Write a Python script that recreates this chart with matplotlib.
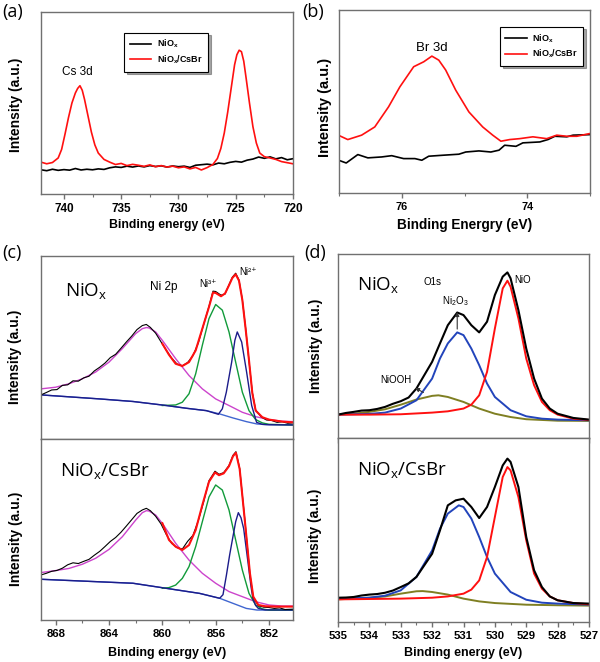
import matplotlib
matplotlib.use("Agg")
from matplotlib import pyplot as plt
from matplotlib.ticker import MultipleLocator

# ---- panel (a): Cs 3d, intensity in % of axes height
A_X_NIOX = [742, 741.5, 741, 740.5, 740, 739.5, 739, 738.5, 738, 737.5, 737, 736.5, 736,
            735.5, 735, 734.5, 734, 733.5, 733, 732.5, 732, 731.5, 731, 730.5, 730, 729.5,
            729, 728.5, 728, 727.5, 727, 726.5, 726, 725.5, 725, 724.5, 724, 723.5, 723,
            722.5, 722, 721.5, 721, 720.5, 720]
A_Y_NIOX = [13.3, 12.8, 13.6, 13.0, 13.4, 13.1, 14.0, 13.2, 13.6, 13.3, 13.8, 13.5, 14.4,
            14.9, 14.6, 15.3, 14.8, 15.4, 14.9, 15.6, 15.1, 15.5, 14.8, 15.4, 15.0, 15.3,
            14.6, 15.8, 16.1, 16.4, 16.0, 17.0, 16.6, 17.4, 17.9, 17.5, 18.6, 19.2, 20.3,
            19.6, 20.4, 19.3, 20.0, 18.8, 19.4]
A_X_CSBR = [742, 741.5, 741, 740.5, 740.2, 739.9, 739.6, 739.3, 739.0, 738.8, 738.6, 738.4,
            738.2, 737.9, 737.6, 737.3, 737.0, 736.5, 736, 735.5, 735, 734.5, 734, 733.5,
            733, 732.5, 732, 731.5, 731, 730.5, 730, 729.5, 729, 728.5, 728, 727.5, 727,
            726.6, 726.3, 726.0, 725.7, 725.4, 725.1, 724.9, 724.7, 724.5, 724.3, 724.1,
            723.8, 723.5, 723.2, 722.9, 722.5, 722, 721.5, 721, 720.5, 720]
A_Y_CSBR = [17.5, 16.6, 17.3, 19.8, 24.5, 33.0, 42.0, 50.0, 55.5, 58.0, 59.5, 57.0,
            52.0, 43.0, 34.0, 27.0, 22.5, 19.0, 17.5, 16.2, 16.8, 15.6, 16.3, 15.8,
            15.2, 16.0, 15.0, 15.6, 14.8, 15.3, 14.4, 14.9, 13.8, 14.6, 13.2, 14.5, 16.2,
            19.5, 25.0, 33.5, 45.0, 58.0, 71.0, 76.5, 79.0, 78.2, 73.0, 64.0,
            50.0, 37.0, 28.0, 22.5, 20.5, 19.8, 19.0, 17.8, 17.2, 16.6]

# ---- panel (b): Br 3d
B_X_NIOX = [77.03, 76.885, 76.70, 76.54, 76.32, 76.16, 75.97, 75.79, 75.68, 75.57, 75.36,
            75.09, 74.98, 74.77, 74.58, 74.45, 74.36, 74.18, 74.07, 73.80, 73.67, 73.56,
            73.37, 73.27, 73.0]
B_Y_NIOX = [18.2, 16.4, 21.0, 19.2, 19.7, 20.4, 18.8, 18.8, 17.9, 20.1, 20.6, 21.2, 22.4,
            23.0, 22.4, 23.4, 26.1, 25.5, 27.4, 27.9, 29.2, 31.0, 30.7, 31.6, 31.9]
B_X_CSBR = [77.03, 76.86, 76.64, 76.43, 76.21, 76.03, 75.81, 75.65, 75.52, 75.41, 75.30,
            75.14, 74.93, 74.71, 74.55, 74.42, 74.28, 74.12, 73.91, 73.69, 73.53, 73.37,
            73.21, 73.0]
B_Y_CSBR = [31.9, 29.2, 31.6, 36.1, 47.1, 58.0, 69.0, 71.7, 74.8, 72.6, 67.2, 56.2, 44.3,
            36.1, 31.6, 28.3, 29.2, 29.7, 30.7, 29.7, 31.6, 31.0, 31.0, 32.5]

# ---- panel (c) top: Ni 2p, NiOx
C1_RAW_X = [869.1, 868.7, 868.3, 867.9, 867.5, 867.1, 866.7, 866.3, 865.9, 865.5, 865.1,
            864.7, 864.3, 863.9, 863.5, 863.1, 862.7, 862.3, 861.9, 861.5, 861.2, 860.9,
            860.5, 860.1, 859.7, 859.3, 858.9, 858.5, 858.1, 857.7, 857.3, 856.9, 856.5,
            856.2, 856.0, 855.6, 855.3, 855.0, 854.75, 854.5, 854.25, 854.0, 853.75, 853.5,
            853.25, 853.0, 852.6, 852.2, 851.8, 851.4, 851.0, 850.6, 850.2]
C1_RAW_Y = [24.1, 25.4, 26.8, 27.0, 29.3, 29.6, 31.8, 31.6, 33.4, 34.3, 37.2,
            39.2, 41.5, 44.5, 46.3, 49.6, 53.0, 56.2, 59.8, 62.0, 62.6, 61.0,
            57.8, 53.1, 48.5, 44.2, 41.0, 40.0, 41.8, 45.6, 52.5, 62.6, 72.5,
            80.8, 80.6, 78.6, 79.2, 84.3, 88.4, 90.6, 86.9, 76.2, 60.4, 42.6,
            25.5, 15.8, 12.2, 10.4, 10.1, 9.1, 9.4, 8.6, 8.8]
C1_FIT_X = [860.0, 859.5, 859.0, 858.5, 858.0, 857.5, 857.0, 856.5, 856.2, 856.0, 855.6,
            855.3, 855.0, 854.75, 854.5, 854.25, 854.0, 853.75, 853.5, 853.25, 853.0,
            852.5, 852.0, 851.0, 850.2]
C1_FIT_Y = [52.1, 46.0, 41.1, 39.9, 42.0, 48.4, 60.3, 72.2, 80.0, 79.8, 78.0,
            79.5, 84.0, 88.0, 90.0, 86.5, 76.0, 60.0, 43.0, 25.0, 15.5,
            11.9, 10.6, 9.5, 9.1]
C1_SAT_X = [869.1, 868, 867, 866, 865, 864, 863, 862, 861.5, 861.2, 861, 860.5, 860, 859,
            858, 857, 856, 855, 854, 853, 852, 851, 850.2]
C1_SAT_Y = [27.4, 28.3, 30.2, 32.9, 36.6, 42.0, 49.4, 57.6, 60.3, 60.9, 60.7, 58.5, 53.9,
            43.9, 34.7, 27.4, 21.9, 18.3, 14.6, 12.2, 10.6, 9.7, 9.5]
C1_NI3_X = [860.0, 859.0, 858.5, 858.0, 857.5, 857.0, 856.5, 856.0, 855.5, 855.0, 854.5,
            854.0, 853.5, 853.0, 852.5, 852.0, 850.2]
C1_NI3_Y = [18.3, 18.6, 20.1, 24.7, 35.6, 51.2, 65.8, 73.5, 70.4, 58.5, 42.0,
            25.6, 15.5, 10.6, 8.8, 8.0, 7.7]
C1_NI2_X = [869.1, 864.7, 862.2, 859.7, 858.2, 856.7, 855.8, 855.5, 855.2, 854.8, 854.56,
            854.38, 854.05, 853.68, 853.3, 852.93, 852.5, 852.0, 850.2]
C1_NI2_Y = [24.1, 21.9, 20.5, 18.3, 16.8, 15.5, 13.5, 16.5, 25.6, 42.0, 53.9,
            58.5, 53.0, 36.6, 18.3, 9.1, 8.0, 7.8, 7.7]
C1_BKG_X = [869.1, 864.7, 862.2, 859.7, 858.2, 856.7, 855.7, 854.7, 853.7, 852.9, 852.2, 850.2]
C1_BKG_Y = [24.1, 21.9, 20.5, 18.3, 16.8, 15.5, 13.7, 11.5, 9.5, 8.2, 7.9, 7.7]

# ---- panel (c) bottom: Ni 2p, NiOx/CsBr
C2_RAW_X = [869.1, 868.7, 868.3, 867.9, 867.5, 867.1, 866.7, 866.3, 865.9, 865.5, 865.1,
            864.7, 864.3, 863.9, 863.5, 863.1, 862.7, 862.3, 861.9, 861.5, 861.2, 860.9,
            860.5, 860.1, 859.7, 859.3, 858.9, 858.5, 858.1, 857.7, 857.3, 856.9, 856.5,
            856.05, 855.75, 855.4, 855.0, 854.7, 854.48, 854.2, 853.8, 853.43, 853.18,
            852.8, 852.4, 852.0, 851.6, 851.2, 850.8, 850.2]
C2_RAW_Y = [24.9, 25.8, 26.9, 27.4, 28.6, 30.5, 31.6, 31.2, 32.4, 33.5, 35.8,
            37.9, 40.6, 43.4, 45.6, 48.5, 51.9, 55.4, 58.9, 60.8, 61.7, 60.4,
            57.3, 53.1, 47.2, 42.3, 40.0, 39.2, 43.5, 46.8, 55.0, 65.3, 77.0,
            82.2, 80.5, 81.4, 85.4, 91.0, 93.0, 83.8, 54.5, 25.5, 12.4,
            7.9, 7.1, 6.9, 6.4, 6.7, 5.8, 6.0]
C2_FIT_X = [860.0, 859.5, 859.0, 858.5, 858.0, 857.5, 857.0, 856.5, 856.05, 855.75, 855.4,
            855.0, 854.7, 854.48, 854.2, 853.8, 853.43, 853.18, 852.8, 852.3, 851.5, 850.2]
C2_FIT_Y = [53.5, 44.2, 40.5, 38.7, 41.4, 49.7, 63.5, 76.4, 81.5, 80.0, 81.0,
            85.0, 90.5, 92.4, 83.4, 54.0, 25.8, 12.9, 8.3, 7.6, 7.4, 7.4]
C2_SAT_X = C1_SAT_X
C2_SAT_Y = [26.2, 27.3, 28.5, 30.8, 34.1, 39.0, 46.0, 55.2, 59.3, 60.4, 60.2, 58.0, 53.4,
            42.4, 33.1, 25.8, 20.3, 15.7, 12.9, 10.1, 8.3, 7.7, 7.7]
C2_NI3_X = [860.0, 859.5, 859.0, 858.5, 858.0, 857.5, 857.0, 856.5, 856.0, 855.5, 855.0,
            854.5, 854.0, 853.5, 853.0, 852.5, 852.0, 850.2]
C2_NI3_Y = [17.5, 17.9, 19.3, 23.0, 29.5, 40.5, 54.3, 68.0, 74.6, 71.8, 60.8,
            44.2, 27.6, 14.7, 8.3, 6.1, 5.5, 5.5]
C2_NI2_X = [869.1, 862.2, 859.7, 857.2, 855.7, 855.45, 855.2, 854.95, 854.75, 854.5, 854.3,
            854.1, 853.9, 853.7, 853.55, 853.35, 853.2, 853.0, 852.8, 852.3, 850.2]
C2_NI2_Y = [22.5, 20.3, 17.5, 14.7, 12.0, 14.0, 24.5, 36.0, 44.2, 54.3, 59.3,
            56.5, 50.5, 39.0, 30.4, 18.5, 11.5, 8.0, 6.4, 5.6, 5.5]
C2_BKG_X = [869.1, 862.2, 859.7, 857.2, 855.7, 854.7, 853.7, 852.9, 850.2]
C2_BKG_Y = [22.5, 20.3, 17.5, 14.7, 12.0, 9.2, 6.4, 5.5, 5.5]

# ---- panel (d) top: O 1s, NiOx
D1_RAW_X = [535, 534.75, 534.5, 534.25, 534, 533.75, 533.5, 533.25, 533, 532.75, 532.5,
            532, 531.75, 531.5, 531.2, 531, 530.75, 530.5, 530.25, 530, 529.75, 529.6,
            529.5, 529.25, 529, 528.75, 528.5, 528.25, 528, 527.5, 527]
D1_RAW_Y = [12.7, 13.6, 14.2, 14.9, 15.1, 15.8, 16.9, 18.6, 20.0, 22.0, 26.9,
            41.4, 51.4, 61.3, 68.2, 66.8, 61.3, 57.4, 63.2, 77.7, 87.7, 90.0,
            86.8, 69.5, 48.6, 32.3, 21.4, 16.0, 13.2, 10.9, 10.0]
D1_NIO_X = [535, 534, 533, 532, 531.5, 531, 530.75, 530.5, 530.25, 530, 529.75, 529.6,
            529.5, 529.25, 529, 528.75, 528.5, 528.25, 528, 527.5, 527]
D1_NIO_Y = [12.7, 12.7, 12.9, 13.8, 14.5, 16.0, 18.1, 23.2, 35.9, 59.5, 81.3, 85.5,
            82.2, 65.0, 43.2, 28.7, 19.6, 15.1, 12.7, 10.5, 9.8]
D1_NI2O3_X = [535, 534, 533.5, 533, 532.5, 532, 531.75, 531.5, 531.2, 531, 530.75, 530.5,
              530.25, 530, 529.5, 529, 528.5, 528, 527]
D1_NI2O3_Y = [12.7, 13.1, 13.8, 16.0, 20.5, 32.3, 43.2, 51.4, 57.4, 55.9, 48.6, 39.6,
              29.6, 22.3, 15.1, 11.8, 10.5, 10.0, 9.6]
D1_NIOOH_X = [535, 534.5, 534, 533.5, 533, 532.5, 532, 531.8, 531.5, 531, 530.5, 530,
              529.5, 529, 528, 527]
D1_NIOOH_Y = [12.7, 13.2, 14.2, 15.6, 18.1, 20.9, 22.9, 23.2, 22.3, 19.6, 16.0, 13.2,
              11.4, 10.2, 9.4, 9.3]

# ---- panel (d) bottom: O 1s, NiOx/CsBr
D2_RAW_X = [535, 534.75, 534.5, 534.25, 534, 533.75, 533.5, 533.25, 533, 532.75, 532.5,
            532, 531.75, 531.5, 531.25, 531, 530.75, 530.5, 530.25, 530, 529.75, 529.6,
            529.5, 529.25, 529, 528.75, 528.5, 528.25, 528, 527.5, 527]
D2_RAW_Y = [13.2, 13.3, 13.6, 14.4, 14.9, 15.2, 15.9, 17.1, 19.0, 21.0, 24.5,
            37.1, 49.8, 63.4, 66.1, 67.0, 62.5, 56.5, 62.5, 73.4, 85.1, 88.8,
            87.0, 73.4, 46.2, 28.1, 19.0, 13.9, 11.8, 10.3, 10.0]
D2_NIO_X = D1_NIO_X
D2_NIO_Y = [12.3, 12.5, 12.7, 13.2, 13.9, 15.4, 17.6, 22.6, 35.3, 57.1, 78.8, 84.2,
            82.4, 67.9, 44.4, 26.3, 18.1, 13.9, 11.8, 10.3, 9.6]
D2_NI2O3_X = [535, 534, 533.5, 533, 532.5, 532, 531.75, 531.5, 531.15, 531, 530.75, 530.5,
              530.25, 530, 529.5, 529, 528.5, 528, 527]
D2_NI2O3_Y = [12.7, 13.2, 14.3, 17.2, 24.5, 38.9, 50.7, 58.9, 63.4, 62.5, 56.2, 46.2,
              35.3, 26.3, 16.3, 12.1, 10.5, 10.0, 9.4]
D2_NIOOH_X = [535, 534, 533.5, 533, 532.5, 532.3, 532, 531.5, 531, 530.5, 530, 529, 528, 527]
D2_NIOOH_Y = [12.3, 13.2, 13.9, 15.4, 16.7, 16.8, 16.3, 14.9, 12.7, 11.2, 10.3, 9.4, 9.1, 8.9]

plt.rcParams['font.family'] = ['Liberation Sans', 'DejaVu Sans']
plt.rcParams['font.weight'] = 'bold'
plt.rcParams['axes.labelweight'] = 'bold'
plt.rcParams['mathtext.default'] = 'regular'

W, H = 600, 662
SPINE = '#707070'
fig = plt.figure(figsize=(W / 100, H / 100), dpi=100)


def add_axes(l, t, r, b):
    return fig.add_axes([l / W, 1 - b / H, (r - l) / W, (b - t) / H])


def style(ax, xlim, major, minor, size, labels=True):
    ax.set_xlim(*xlim)
    ax.set_ylim(0, 100)
    ax.set_yticks([])
    ax.xaxis.set_major_locator(MultipleLocator(major))
    ax.xaxis.set_minor_locator(MultipleLocator(minor))
    for s in ax.spines.values():
        s.set_color(SPINE)
        s.set_linewidth(1.0)
    ax.tick_params(axis='x', which='major', direction='out', length=3.5, width=1,
                   color=SPINE, labelsize=size, pad=3, labelbottom=labels)
    ax.tick_params(axis='x', which='minor', direction='out', length=2, width=0.8, color=SPINE)


def ylab(ax, x, y=0.5, size=10):
    ax.set_ylabel('Intensity (a.u.)', fontsize=size)
    ax.yaxis.set_label_coords(x, y)


def legend(ax, loc, anchor):
    lg = ax.legend(loc=loc, bbox_to_anchor=anchor, fontsize=6.5, handlelength=2.4,
                   borderpad=0.6, labelspacing=0.35, handletextpad=0.6, fancybox=False,
                   shadow=True, edgecolor='black', framealpha=1)
    lg.get_frame().set_linewidth(0.8)


def panel_letter(x, y, s):
    fig.text(x / W, 1 - y / H, s, family=['Open Sans'], fontweight='normal', fontsize=13,
             va='top', ha='left')


def small(ax, x, y, s, size=7):
    ax.text(x, y, s, family=['Liberation Sans', 'DejaVu Sans'], fontweight='normal',
            fontsize=size, ha='center', va='center')


# (a)
ax = add_axes(41, 12, 293, 194)
ax.plot(A_X_NIOX, A_Y_NIOX, color='black', lw=1.2, label='NiO$_x$')
ax.plot(A_X_CSBR, A_Y_CSBR, color='#ff1010', lw=1.2, label='NiO$_x$/CsBr')
style(ax, (742, 720), 5, 2.5, 8.5)
ax.set_xlabel('Binding energy (eV)', fontsize=8.8)
ax.xaxis.set_label_coords(0.5, -(219 - 194) / 182)
ylab(ax, -0.071, 0.49)
legend(ax, 'upper left', (0.313, 0.912))
small(ax, 738.8, 66.8, 'Cs 3d', 8.5)
panel_letter(2, 3, '(a)')

# (b)
ax = add_axes(339, 10, 590, 193)
ax.plot(B_X_NIOX, B_Y_NIOX, color='black', lw=1.2, label='NiO$_x$')
ax.plot(B_X_CSBR, B_Y_CSBR, color='#ff1010', lw=1.2, label='NiO$_x$/CsBr')
style(ax, (77, 73), 2, 1, 7.8)
ax.set_xlabel('Binding Energry (eV)', fontsize=9.8)
ax.xaxis.set_label_coords(0.5, -(218 - 193) / 183)
ylab(ax, -0.028, 0.47, 10.5)
legend(ax, 'upper right', (0.992, 0.934))
small(ax, 75.52, 79, 'Br 3d', 9.5)
panel_letter(302, 3, '(b)')

# (c)
C_TOP = [C1_RAW_X, C1_RAW_Y, C1_FIT_X, C1_FIT_Y, C1_SAT_X, C1_SAT_Y, C1_NI3_X, C1_NI3_Y,
         C1_NI2_X, C1_NI2_Y, C1_BKG_X, C1_BKG_Y]
C_BOT = [C2_RAW_X, C2_RAW_Y, C2_FIT_X, C2_FIT_Y, C2_SAT_X, C2_SAT_Y, C2_NI3_X, C2_NI3_Y,
         C2_NI2_X, C2_NI2_Y, C2_BKG_X, C2_BKG_Y]
for i, (rect, d) in enumerate([((41, 256, 293, 439), C_TOP), ((41, 439, 293, 620), C_BOT)]):
    ax = add_axes(*rect)
    ax.plot(d[10], d[11], color='#4066d0', lw=1.0)
    ax.plot(d[4], d[5], color='#cc44cc', lw=1.0)
    ax.plot(d[6], d[7], color='#119a3a', lw=1.0)
    ax.plot(d[8], d[9], color='#1c1c8a', lw=1.0)
    ax.plot(d[0], d[1], color='black', lw=0.8)
    ax.plot(d[2], d[3], color='#ff1010', lw=1.5)
    style(ax, (869.1, 850.2), 4, 2, 8.2, labels=(i == 1))
    if i == 0:
        ylab(ax, -0.075, 0.447)
        ax.text(0.095, 0.81, 'NiO$_x$', transform=ax.transAxes, family=['Open Sans'],
                fontweight='normal', fontsize=13.5, ha='left', va='center')
        small(ax, 859.9, 83.2, 'Ni 2p', 8.5)
        small(ax, 856.6, 84.5, 'Ni³⁺', 7)
        small(ax, 853.6, 91, 'Ni²⁺', 7)
    else:
        ylab(ax, -0.071, 0.447)
        ax.text(0.075, 0.823, 'NiO$_x$/CsBr', transform=ax.transAxes, family=['Open Sans'],
                fontweight='normal', fontsize=13.5, ha='left', va='center')
        ax.set_xlabel('Binding energy (eV)', fontsize=9)
        ax.xaxis.set_label_coords(0.5, -(647 - 620) / 181)
panel_letter(2, 244, '(c)')

# (d)
D_TOP = [D1_RAW_X, D1_RAW_Y, D1_NIO_X, D1_NIO_Y, D1_NI2O3_X, D1_NI2O3_Y, D1_NIOOH_X, D1_NIOOH_Y]
D_BOT = [D2_RAW_X, D2_RAW_Y, D2_NIO_X, D2_NIO_Y, D2_NI2O3_X, D2_NI2O3_Y, D2_NIOOH_X, D2_NIOOH_Y]
for i, (rect, d) in enumerate([((338, 254, 589, 438), D_TOP), ((338, 438, 589, 622), D_BOT)]):
    ax = add_axes(*rect)
    ax.plot(d[6], d[7], color='#7f7f22', lw=1.4)
    ax.plot(d[4], d[5], color='#2244bb', lw=1.4)
    ax.plot(d[2], d[3], color='#ff1010', lw=1.4)
    ax.plot(d[0], d[1], color='black', lw=1.5)
    style(ax, (535, 527), 1, 0.5, 8.2, labels=(i == 1))
    if i == 0:
        ylab(ax, -0.06, 0.5)
        ax.text(0.076, 0.83, 'NiO$_x$', transform=ax.transAxes, family=['Open Sans'],
                fontweight='normal', fontsize=13.5, ha='left', va='center')
        small(ax, 531.98, 84.9, 'O1s')
        small(ax, 529.11, 85.8, 'NiO')
        ax.text(531.26, 74.5, 'Ni$_2$O$_3$', fontweight='normal', fontsize=7,
                ha='center', va='center')
        ax.annotate('', xy=(531.2, 70.0), xytext=(531.2, 57.7),
                    arrowprops=dict(arrowstyle='-|>', color='#333333', lw=0.8, mutation_scale=6))
        small(ax, 533.17, 31.5, 'NiOOH')
        ax.annotate('', xy=(532.62, 28.0), xytext=(532.2, 24.0),
                    arrowprops=dict(arrowstyle='-|>', color='#333333', lw=0.8, mutation_scale=6))
    else:
        ylab(ax, -0.064, 0.471)
        ax.text(0.076, 0.824, 'NiO$_x$/CsBr', transform=ax.transAxes, family=['Open Sans'],
                fontweight='normal', fontsize=13.5, ha='left', va='center')
        ax.set_xlabel('Binding energy (eV)', fontsize=9)
        ax.xaxis.set_label_coords(0.5, -(647 - 622) / 184)
panel_letter(304, 244, '(d)')

fig.savefig('out.png', dpi=100)
